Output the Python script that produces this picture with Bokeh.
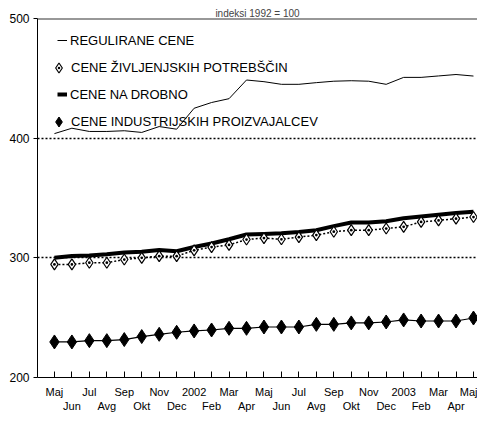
from bokeh.plotting import figure
from bokeh.models import FixedTicker, Span, Legend, LegendItem
from bokeh.embed import file_html
from bokeh.resources import INLINE

# ---- data ----
months = ["Maj", "Jun", "Jul", "Avg", "Sep", "Okt", "Nov", "Dec", "2002", "Feb",
          "Mar", "Apr", "Maj", "Jun", "Jul", "Avg", "Sep", "Okt", "Nov", "Dec",
          "2003", "Feb", "Mar", "Apr", "Maj"]
regulated = [403.8, 408.3, 405.6, 405.6, 406.2, 404.8, 409.7, 407.5, 425.0, 429.8,
             433.0, 448.6, 447.2, 445.0, 445.0, 446.4, 447.6, 448.0, 447.6, 445.0,
             450.8, 450.8, 452.0, 453.2, 451.9]
living = [294.5, 294.5, 295.9, 295.9, 298.6, 300.0, 301.4, 301.4, 306.3, 309.0,
          310.8, 315.3, 316.5, 315.5, 317.3, 319.0, 321.8, 323.1, 323.1, 324.5,
          325.9, 330.0, 331.3, 332.7, 334.1]
retail = [300.0, 301.5, 302.0, 303.0, 304.5, 305.0, 306.5, 305.5, 309.0, 312.0,
          315.5, 319.5, 320.0, 320.5, 321.5, 323.0, 326.5, 329.5, 329.5, 330.5,
          333.0, 334.5, 336.0, 337.5, 338.5]
industrial = [229.7, 229.7, 230.8, 230.8, 231.7, 234.2, 236.1, 237.8, 238.9, 239.7,
              241.1, 241.1, 242.2, 242.2, 242.2, 244.4, 244.4, 245.6, 245.6, 246.4,
              248.1, 247.2, 247.2, 247.2, 249.7]
y_ticks = [200, 300, 400, 500]
grid_levels = [300, 400]
title_text = "indeksi 1992 = 100"
legend_labels = ["REGULIRANE CENE", "CENE ŽIVLJENJSKIH POTREBŠČIN",
                 "CENE NA DROBNO", "CENE INDUSTRIJSKIH PROIZVAJALCEV"]

x = list(range(len(months)))

p = figure(width=477, height=414, x_range=(-0.97, 24.23), y_range=(200, 500),
           output_backend="svg", toolbar_location=None,
           min_border_left=37, min_border_right=0, min_border_top=18,
           min_border_bottom=0, title=title_text)
p.title.align = "center"
p.title.text_font = "Liberation Sans"
p.title.text_font_size = "10px"
p.title.text_font_style = "normal"
p.title.standoff = 0
p.outline_line_color = None
p.background_fill_color = "white"
p.border_fill_color = "white"

p.xgrid.visible = False
p.ygrid.ticker = FixedTicker(ticks=grid_levels)
p.ygrid.grid_line_color = "black"
p.ygrid.grid_line_dash = "2 2"
p.ygrid.grid_line_width = 1.5

p.add_layout(Span(location=y_ticks[-1], dimension="width",
                  line_color="#333333", line_width=2))

ya = p.yaxis[0]
ya.ticker = FixedTicker(ticks=y_ticks)
ya.major_tick_in = 0
ya.major_tick_out = 4
ya.minor_tick_in = 0
ya.minor_tick_out = 0
ya.axis_line_color = "black"
ya.major_tick_line_color = "black"
ya.major_label_text_font = "Liberation Sans"
ya.major_label_text_font_size = "12px"
ya.major_label_text_color = "black"
ya.major_label_standoff = 4

xa = p.xaxis[0]
xa.ticker = FixedTicker(ticks=x)
xa.major_label_overrides = {i: (m + "\n") if i % 2 == 0 else ("\n" + m)
                            for i, m in enumerate(months)}
xa.major_tick_in = 6
xa.major_tick_out = 0
xa.minor_tick_in = 0
xa.minor_tick_out = 0
xa.axis_line_color = "black"
xa.major_tick_line_color = "black"
xa.major_label_text_font = "Liberation Sans"
xa.major_label_text_font_size = "11px"
xa.major_label_text_color = "black"
xa.major_label_standoff = 8

r_reg = p.line(x, regulated, line_color="black", line_width=1)
r_ret = p.line(x, retail, line_color="black", line_width=4)
r_liv_line = p.line(x, living, line_color="black", line_width=1.5, line_dash="2 2")
r_liv = p.scatter(x, living, marker="diamond_dot", size=11, fill_color="white",
                  line_color="black", line_width=1.2)
r_ind_line = p.line(x, industrial, line_color="black", line_width=1.2)
r_ind = p.scatter(x, industrial, marker="diamond", size=14, fill_color="black",
                  line_color="black")


def make_legend(label, renderer, loc, gw, gh, standoff):
    return Legend(items=[LegendItem(label=label, renderers=[renderer])],
                  location=loc, border_line_color=None,
                  background_fill_alpha=0, padding=0, margin=0,
                  label_text_font="Liberation Sans",
                  label_text_font_size="13px", label_text_color="black",
                  glyph_width=gw, glyph_height=gh, label_height=gh,
                  label_standoff=standoff)


p.add_layout(make_legend(legend_labels[0], r_reg, (20, 329), 10, 16, 3))
p.add_layout(make_legend(legend_labels[1], r_liv, (9, 297), 25, 25, 0))
p.add_layout(make_legend(legend_labels[2], r_ret, (20, 275), 10, 16, 3))
p.add_layout(make_legend(legend_labels[3], r_ind, (9, 243), 25, 25, 0))

open("out.html", "w").write(file_html(p, INLINE))
